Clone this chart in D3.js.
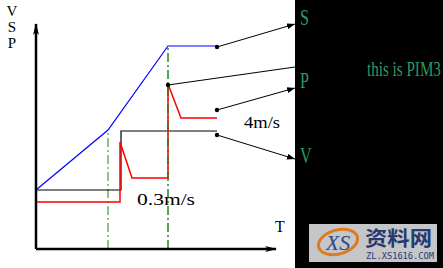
<!DOCTYPE html>
<html>
<head>
<meta charset="utf-8">
<script src="https://cdn.jsdelivr.net/npm/d3@7"></script>
<style>
  html, body { margin: 0; padding: 0; background: #fff; }
  svg { display: block; }
</style>
</head>
<body>
<div id="chart"></div>
<script>
// time points (x) and levels (y) of each curve, in chart units
var speedS    = [[0, 59], [72, 119], [132, 203], [181, 203]];
var velocityV = [[0, 59], [85, 59], [85, 118], [181, 118]];
var pressureP = [[0, 47], [84, 47], [84, 107], [96, 71], [132, 71], [132, 165], [145, 131], [181, 131]];
var phaseT    = [[72, 119], [132, 203]];
// callout lines: from point on curve to label
var callouts  = [
  { from: [181, 202], to: [259, 225], head: true },
  { from: [132, 164], to: [259, 182], head: false },
  { from: [181, 139], to: [259, 161], head: true },
  { from: [181, 114], to: [259, 90],  head: true }
];
var axisLabels = ["V", "S", "P"];
var speedLabels = [
  { text: "4m/s",   at: [208, 121], w: 36 },
  { text: "0.3m/s", at: [101, 44],  w: 58 }
];
var panelLabels = ["S", "P", "V"];

var W = 443, H = 268;
var svg = d3.select("#chart").append("svg")
  .attr("width", W).attr("height", H);

var x = d3.scaleLinear().domain([0, 240]).range([36, 276]);
var y = d3.scaleLinear().domain([0, 225]).range([249, 24]);

var defs = svg.append("defs");
defs.append("marker").attr("id", "axisHead")
  .attr("viewBox", "0 0 12 6").attr("refX", 11).attr("refY", 3)
  .attr("markerWidth", 12).attr("markerHeight", 6)
  .attr("markerUnits", "userSpaceOnUse").attr("orient", "auto")
  .append("path").attr("d", "M0,0 L12,3 L0,6 L3,3 Z").attr("fill", "#000");
defs.append("marker").attr("id", "smallHead")
  .attr("viewBox", "0 0 8 6").attr("refX", 8).attr("refY", 3)
  .attr("markerWidth", 8).attr("markerHeight", 6)
  .attr("markerUnits", "userSpaceOnUse").attr("orient", "auto")
  .append("path").attr("d", "M0,0 L8,3 L0,6 Z").attr("fill", "#000");

// white area and black side panel
svg.append("rect").attr("x", 0).attr("y", 0).attr("width", W).attr("height", H).attr("fill", "#fff");
svg.append("rect").attr("x", 295).attr("y", 0).attr("width", W - 295).attr("height", H).attr("fill", "#000");

var line = d3.line().x(function(d) { return x(d[0]); }).y(function(d) { return y(d[1]); });

// phase marker lines (green dash-dot)
svg.selectAll(".phase").data(phaseT).enter().append("line")
  .attr("class", "phase")
  .attr("x1", function(d) { return x(d[0]); })
  .attr("x2", function(d) { return x(d[0]); })
  .attr("y1", y(0)).attr("y2", function(d) { return y(d[1]); })
  .style("stroke", "#1a8a1a").style("stroke-width", 1)
  .style("stroke-dasharray", "9,3,2,3");

// curves
svg.append("path").datum(velocityV).attr("d", line)
  .attr("fill", "none").attr("stroke", "#000").attr("stroke-width", 1.2);
svg.append("path").datum(pressureP).attr("d", line)
  .attr("fill", "none").attr("stroke", "#f00").attr("stroke-width", 1.5);
svg.append("path").datum(speedS).attr("d", line)
  .attr("fill", "none").attr("stroke", "#00f").attr("stroke-width", 1.2);

// green dashes drawn again over the red vertical
svg.append("line")
  .attr("x1", x(phaseT[1][0])).attr("x2", x(phaseT[1][0]))
  .attr("y1", y(0)).attr("y2", y(phaseT[1][1]))
  .style("stroke", "#1a8a1a").style("stroke-width", 1)
  .style("stroke-dasharray", "9,3,2,3");

// axes
svg.append("line")
  .attr("x1", x(0)).attr("y1", y(0)).attr("x2", x(0)).attr("y2", y(225))
  .attr("stroke", "#000").attr("stroke-width", 2.5).attr("marker-end", "url(#axisHead)");
svg.append("line")
  .attr("x1", x(0)).attr("y1", y(0)).attr("x2", x(240)).attr("y2", y(0))
  .attr("stroke", "#000").attr("stroke-width", 2.5).attr("marker-end", "url(#axisHead)");

svg.selectAll(".ylab").data(axisLabels).enter().append("text")
  .attr("class", "ylab")
  .attr("x", 12).attr("y", function(d, i) { return 16 + i * 16; })
  .attr("text-anchor", "middle")
  .style("font-family", "'Liberation Serif', serif").style("font-size", "15px")
  .text(function(d) { return d; });
svg.append("text").attr("x", x(244)).attr("y", 232)
  .attr("text-anchor", "middle")
  .style("font-family", "'Liberation Serif', serif").style("font-size", "16px")
  .text("T");

// speed annotations
svg.selectAll(".spd").data(speedLabels).enter().append("text")
  .attr("class", "spd")
  .attr("x", function(d) { return x(d.at[0]); })
  .attr("y", function(d) { return y(d.at[1]); })
  .attr("textLength", function(d) { return d.w; })
  .attr("lengthAdjust", "spacingAndGlyphs")
  .style("font-family", "'Liberation Serif', serif")
  .style("font-size", "17px")
  .text(function(d) { return d.text; });

// callouts
var co = svg.selectAll(".callout").data(callouts).enter().append("g").attr("class", "callout");
co.append("line")
  .attr("x1", function(d) { return x(d.from[0]); })
  .attr("y1", function(d) { return y(d.from[1]); })
  .attr("x2", function(d) { return x(d.to[0]); })
  .attr("y2", function(d) { return y(d.to[1]); })
  .attr("stroke", "#000").attr("stroke-width", 1)
  .attr("marker-end", function(d) { return d.head ? "url(#smallHead)" : null; });
co.append("circle")
  .attr("cx", function(d) { return x(d.from[0]); })
  .attr("cy", function(d) { return y(d.from[1]); })
  .attr("r", 2.2).attr("fill", "#000");

// panel labels
var pY = [25, 88, 163];
svg.selectAll(".plab").data(panelLabels).enter().append("text")
  .attr("class", "plab")
  .attr("x", 0).attr("y", 0)
  .attr("transform", function(d, i) { return "translate(300," + pY[i] + ") scale(0.7,1)"; })
  .style("font-family", "'Liberation Serif', serif").style("font-size", "23px")
  .style("fill", "#2f9a5f")
  .text(function(d) { return d; });
svg.append("text").attr("x", 0).attr("y", 0)
  .attr("transform", "translate(367,76) scale(0.72,1)")
  .style("font-family", "'Liberation Serif', serif").style("font-size", "21px")
  .style("fill", "#2f9a5f")
  .text("this is PIM3");

// watermark
var wm = svg.append("g");
wm.append("rect").attr("x", 309).attr("y", 224).attr("width", 128).attr("height", 38).attr("fill", "#c4c6c8");
wm.append("ellipse").attr("cx", 338).attr("cy", 242).attr("rx", 20).attr("ry", 12)
  .attr("fill", "none").attr("stroke", "#e07a20").attr("stroke-width", 3)
  .attr("transform", "rotate(-15,338,242)");
wm.append("text").attr("x", 338).attr("y", 250).attr("text-anchor", "middle")
  .style("font-family", "'Liberation Serif', serif").style("font-style", "italic")
  .style("font-size", "22px").style("fill", "#2c4a8a").text("XS");
wm.append("text").attr("x", 365).attr("y", 246)
  .attr("textLength", 67).attr("lengthAdjust", "spacingAndGlyphs")
  .style("font-family", "'Noto Sans CJK SC', sans-serif").style("font-weight", "bold")
  .style("font-size", "20px").style("fill", "#2a3870").text("资料网");
wm.append("text").attr("x", 366).attr("y", 259)
  .attr("textLength", 68).attr("lengthAdjust", "spacingAndGlyphs")
  .style("font-family", "'DejaVu Sans Mono', monospace")
  .style("font-size", "8px").style("fill", "#2a3870").text("ZL.XS1616.COM");
</script>
</body>
</html>
